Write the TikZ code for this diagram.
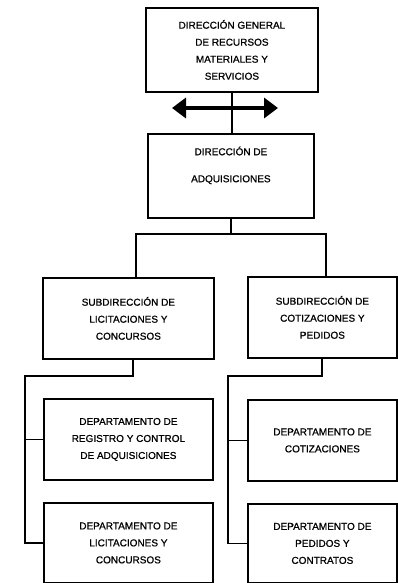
\documentclass[tikz,border=0pt]{standalone}
\usepackage{fontspec}
\setmainfont[FakeBold=0.8]{Liberation Sans}
\usetikzlibrary{arrows.meta,calc}
\begin{document}
\begin{tikzpicture}[x=1pt,y=-1pt,
  box/.style={draw,line width=1.8pt,anchor=north west,align=center,inner sep=2pt,
    font=\fontsize{10}{17}\selectfont},
  conn/.style={line width=1.8pt},
  bigarrow/.style={line width=4pt,{Triangle[length=14pt,width=20pt]}-{Triangle[length=14pt,width=20pt]}}]
\useasboundingbox (0,0) rectangle (397,583);
% boxes
\node[box,minimum width=172pt,minimum height=84pt] (top) at (145,7)
  {\fontsize{10}{18}\selectfont DIRECCIÓN GENERAL\\DE RECURSOS\\MATERIALES Y\\SERVICIOS};
\node[box,minimum width=166pt,minimum height=84pt] (dir) at (147,133)
  {DIRECCIÓN DE\\[10pt]ADQUISICIONES\\[6pt]};
\node[box,minimum width=171pt,minimum height=81pt] (subL) at (42,277)
  {SUBDIRECCIÓN DE\\LICITACIONES Y\\CONCURSOS};
\node[box,minimum width=149pt,minimum height=81pt] (subR) at (247,276)
  {SUBDIRECCIÓN DE\\COTIZACIONES Y\\PEDIDOS};
\node[box,minimum width=169pt,minimum height=81pt] (L1) at (43,398)
  {DEPARTAMENTO DE\\REGISTRO Y CONTROL\\DE ADQUISICIONES};
\node[box,minimum width=169pt,minimum height=80pt] (L2) at (43,502)
  {DEPARTAMENTO DE\\LICITACIONES Y\\CONCURSOS};
\node[box,minimum width=149pt,minimum height=81pt] (R1) at (247,399)
  {DEPARTAMENTO DE\\COTIZACIONES};
\node[box,minimum width=149pt,minimum height=79pt] (R2) at (247,503)
  {DEPARTAMENTO DE\\PEDIDOS Y\\CONTRATOS};
% arrow
\coordinate (al) at (172,108);
\coordinate (ar) at (278,108);
\draw[bigarrow] (al) -- (ar);
% top to dir
\draw[conn] (top.south) -- (top.south |- dir.north);
% dir to subdirections
\coordinate (jl) at (136,234);
\coordinate (jr) at (326,234);
\draw[conn] (dir.south) -- (dir.south |- jl);
\draw[conn] (jl |- subL.north) -- (jl) -- (jr) -- (jr |- subR.north);
% left branch
\coordinate (sl) at (133,376);
\coordinate (vl) at (25,376);
\draw[conn] (sl |- subL.south) -- (sl) -- (vl) -- (vl |- L2.west) -- (L2.west);
\draw[conn] (vl |- L1.west) -- (L1.west);
% right branch
\coordinate (sr) at (322,376);
\coordinate (vr) at (228,376);
\draw[conn] (sr |- subR.south) -- (sr) -- (vr) -- (vr |- R2.west) -- (R2.west);
\draw[conn] (vr |- R1.west) -- (R1.west);
\end{tikzpicture}
\end{document}
